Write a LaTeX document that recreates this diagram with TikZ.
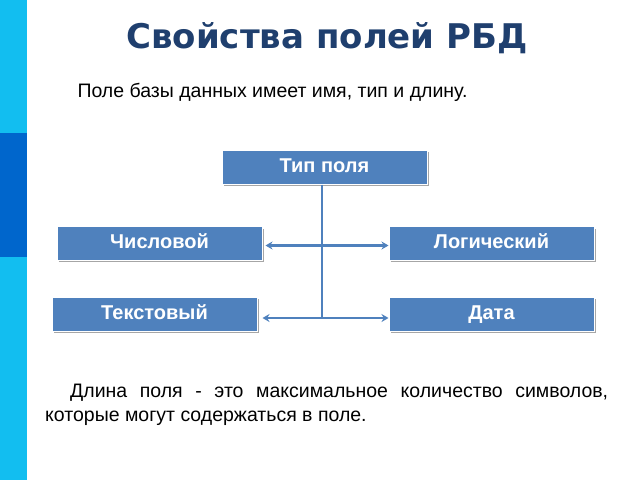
\documentclass[tikz,border=0pt]{standalone}
\usepackage{fontspec}
\setmainfont{Liberation Sans}
\newfontfamily\titlefont{DejaVu Sans}
\usetikzlibrary{arrows.meta}
\definecolor{barcyan}{RGB}{18,190,240}
\definecolor{bardark}{RGB}{0,102,204}
\definecolor{boxblue}{RGB}{79,129,189}
\definecolor{titleblue}{RGB}{31,63,110}
\tikzset{
  field/.style={rectangle, draw=white, line width=1pt, fill=boxblue,
    minimum width=205pt, minimum height=34pt, inner sep=0pt,
    text height=14pt, text depth=4pt,
    font=\fontsize{20}{24}\selectfont\bfseries, text=white},
  shade/.style={draw=black!35, line width=1.2pt},
  link/.style={draw=boxblue, line width=2.5pt},
  biarrow/.style={link, {Stealth[length=7pt,width=8pt]}-{Stealth[length=7pt,width=8pt]}},
}
\begin{document}
\begin{tikzpicture}[x=1pt,y=-1pt]
\useasboundingbox (0,0) rectangle (640,480);
% ---- side bar ----
\fill[barcyan] (0,0) rectangle (27,133);
\fill[bardark] (0,133) rectangle (27,257);
\fill[barcyan] (0,257) rectangle (27,480);
% ---- texts ----
\node[font=\titlefont\fontsize{34}{38}\selectfont\bfseries, text=titleblue] (title) at (327,38) {Свойства полей РБД};
\node[anchor=west, font=\fontsize{19.5}{23}\selectfont] (intro) at (74,92) {Поле базы данных имеет имя, тип и длину.};
% ---- boxes ----
\foreach \n/\cx/\cy/\t in {type/324.5/167/Тип поля, num/159.5/243.5/Числовой, logic/491.5/243.5/Логический, text/154.5/314/Текстовый, date/491.5/314/Дата}{
  \draw[shade] (\cx-101,\cy+18) -- (\cx+104,\cy+18) -- (\cx+104,\cy-15);
  \node[field] (\n) at (\cx,\cy) {\t};
}
% ---- connectors ----
\coordinate (bottom) at (322,318);
\draw[link] (type.south -| bottom) -- (bottom);
\draw[biarrow] (num.east) ++(3,2) coordinate (na) -- (na -| logic.west);
\draw[biarrow] (text.east) ++(5,4) coordinate (ta) -- (ta -| date.west);
% ---- paragraph ----
\node[anchor=north west, text width=563pt, align=justify, font=\fontsize{19.5}{23.5}\selectfont, inner sep=0pt] (para) at (45,384)
  {\hspace*{25pt}Длина поля - это максимальное количество символов, которые могут содержаться в поле.};
\end{tikzpicture}
\end{document}
